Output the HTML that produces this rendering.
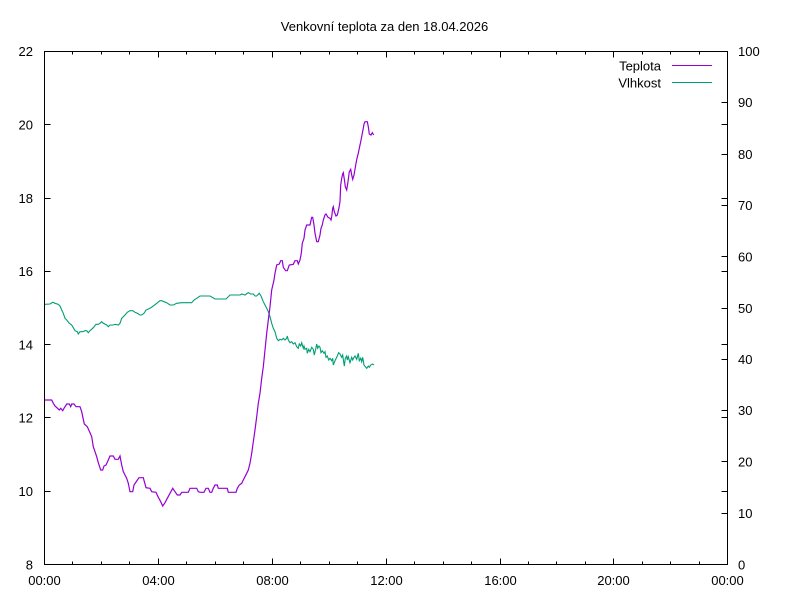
<!DOCTYPE html>
<html>
<head>
<meta charset="utf-8">
<style>
  html, body { margin: 0; padding: 0; background: #fff; }
  svg { display: block; }
  text { font-family: "Liberation Sans", "DejaVu Sans", sans-serif; font-size: 13px; fill: #000; }
</style>
</head>
<body>
<svg width="800" height="600" viewBox="0 0 800 600" xmlns="http://www.w3.org/2000/svg">
  <rect x="0" y="0" width="800" height="600" fill="#fff"/>

  <!-- Title -->
  <text x="384.5" y="31" text-anchor="middle">Venkovní teplota za den 18.04.2026</text>

  <!-- Ticks -->
  <g stroke="#000" stroke-width="1" shape-rendering="crispEdges" fill="none">
    <path d="M44.5 564.5h6 M44.5 491.5h6 M44.5 417.5h6 M44.5 344.5h6 M44.5 271.5h6 M44.5 198.5h6 M44.5 124.5h6 M44.5 51.5h6
             M727.5 491.5h-6 M727.5 417.5h-6 M727.5 344.5h-6 M727.5 271.5h-6 M727.5 198.5h-6 M727.5 124.5h-6"/>
    <path d="M727.5 513.5h-6 M727.5 461.5h-6 M727.5 410.5h-6 M727.5 359.5h-6 M727.5 308.5h-6 M727.5 256.5h-6 M727.5 205.5h-6 M727.5 154.5h-6 M727.5 102.5h-6"/>
    <path d="M158.5 564.5v-6 M272.5 564.5v-6 M386.5 564.5v-6 M500.5 564.5v-6 M613.5 564.5v-6
             M158.5 51.5v6 M272.5 51.5v6 M386.5 51.5v6 M500.5 51.5v6 M613.5 51.5v6"/>
    <path d="M72.5 564.5v-3 M101.5 564.5v-3 M129.5 564.5v-3 M186.5 564.5v-3 M215.5 564.5v-3 M243.5 564.5v-3
             M300.5 564.5v-3 M329.5 564.5v-3 M357.5 564.5v-3 M414.5 564.5v-3 M443.5 564.5v-3 M471.5 564.5v-3
             M528.5 564.5v-3 M556.5 564.5v-3 M585.5 564.5v-3 M642.5 564.5v-3 M670.5 564.5v-3 M699.5 564.5v-3
             M72.5 51.5v3 M101.5 51.5v3 M129.5 51.5v3 M186.5 51.5v3 M215.5 51.5v3 M243.5 51.5v3
             M300.5 51.5v3 M329.5 51.5v3 M357.5 51.5v3 M414.5 51.5v3 M443.5 51.5v3 M471.5 51.5v3
             M528.5 51.5v3 M556.5 51.5v3 M585.5 51.5v3 M642.5 51.5v3 M670.5 51.5v3 M699.5 51.5v3"/>
  </g>

  <!-- Left y labels -->
  <g text-anchor="end">
    <text x="33" y="569.5">8</text>
    <text x="33" y="496">10</text>
    <text x="33" y="422.5">12</text>
    <text x="33" y="349.5">14</text>
    <text x="33" y="276">16</text>
    <text x="33" y="203">18</text>
    <text x="33" y="129.5">20</text>
    <text x="33" y="56">22</text>
  </g>

  <!-- Right y2 labels -->
  <g text-anchor="start">
    <text x="738" y="569.5">0</text>
    <text x="738" y="518">10</text>
    <text x="738" y="466.5">20</text>
    <text x="738" y="415">30</text>
    <text x="738" y="364">40</text>
    <text x="738" y="313">50</text>
    <text x="738" y="261.5">60</text>
    <text x="738" y="210">70</text>
    <text x="738" y="159">80</text>
    <text x="738" y="107">90</text>
    <text x="738" y="56">100</text>
  </g>

  <!-- X labels -->
  <g text-anchor="middle">
    <text x="44.5" y="585">00:00</text>
    <text x="158.5" y="585">04:00</text>
    <text x="272.5" y="585">08:00</text>
    <text x="386.5" y="585">12:00</text>
    <text x="500.5" y="585">16:00</text>
    <text x="613.5" y="585">20:00</text>
    <text x="727.5" y="585">00:00</text>
  </g>

  <!-- Legend -->
  <text x="661" y="70.5" text-anchor="end">Teplota</text>
  <text x="661" y="87.5" text-anchor="end">Vlhkost</text>
  <rect x="672" y="65" width="40" height="1" fill="#9400d3"/>
  <rect x="672" y="82" width="40" height="1" fill="#009e73"/>

  <!-- Vlhkost series -->
  <polyline fill="none" stroke="#009e73" stroke-width="1.1" stroke-linejoin="miter" points="
45,304.3 50,304 52.7,302.3 55,303.3 58.3,304.3 60,306 61.7,310 63.3,313.3 65,318.3 66.7,320 69.3,323.3 71.7,325 73.3,327.7 75,330.7 77.3,331.7 78.3,334 80,331.7 82.7,331.7 85,330.7 86.7,330.7 88.3,332.7 90,330.7 93.3,327.7 96,324.3 98.3,324.3 100,323.3 101.7,321.7 103.3,323.3 106.7,325 108.3,326.7 110,325 113.3,325 115,324.3 118.3,325 120,323.3 121.7,318.3 125,315 127.3,312.3 130,310.7 132.7,310.7 135,312.3 137.3,313.3 140,315 141.7,315 144,313.3 146,310 150,308.3 153.3,306 156.7,303.3 160,300.7 161.7,300.7 164,301.7 166.7,302.7 170,305 173.3,305 176.7,303.3 181.7,302.7 191.7,302.7 194,300 196.7,298.3 200,296 210,296 215,299 226,299 230,295 240,295 241.7,294 245,295 248.3,292.7 250.7,294 253.3,294 255,296 256.7,296 259.3,293.3 261,296 263.3,301.7 265,305 266.7,308.3 268.3,311.7 270,316.7 271.7,323.3 273.3,328.3 275,331.7 276.7,338.3 278.3,340.7 280,339.3 281.7,340 283.3,338.3 285,340 286.7,338.3 287.3,336 288.3,340 290,342.7 291.7,341.7 293.3,344 295,342.7 296.7,346.7 298.3,348.3 299.3,344 300.7,346 301.7,342.7 303.3,348.3 304,346 305,349.3 306.7,348.3 307.3,353.3 308.7,349.3 310,351.7 311.7,347.3 313.3,349.3 314.3,355 315.7,349 316.7,344 317.7,348.3 319,346 320,347.3 321,352.7 322.3,350.7 324,353.3 325,351.7 326,357.3 327.3,356 328.7,360 330,358.3 331.7,360.7 332.7,358.3 333.3,365 335,360.7 336.7,357.3 337.7,355 338.7,352.7 340,354 341.7,357.3 342.7,355 343.3,359.3 344.3,366 345.3,358.3 346.7,356 347.3,360 348.3,356.7 350,362.7 351.7,357.3 352.7,360 354,357.3 355,356 356.7,359.3 358.3,353.3 359.3,360.7 360.7,358.3 361.7,361.7 362.7,357.3 364,365 365.3,366.7 366.7,368.3 368.3,366 369.3,367.3 370.7,365 372.7,364 374,365"/>

  <!-- Teplota series -->
  <polyline fill="none" stroke="#9400d3" stroke-width="1.2" stroke-linejoin="miter" points="
45,400 51.7,400 53.3,403.3 55,406 59.3,410 60.7,408.3 62.7,410.7 64,408.3 66.7,404 69.3,404 70.7,406.7 71.7,404 74,404 76,406.7 80,406.7 81.7,411.7 84.3,424 87.3,426.7 90,432.7 91.7,436.7 93.3,446.7 95,451.7 96.7,456.7 98.3,462.7 100.7,470 102.7,470 104,466 106,465 108.3,460 110,456 113.3,456 115,459.3 118.3,459.3 120,456 121.7,465 123.3,471.7 125,475 126.7,478.3 128.3,483.3 130,491.7 132.7,491.7 134,485 136.7,481 139,477.7 143.3,477.7 146,487.7 150,488.3 151.7,491.7 156,492.3 158.3,497.3 160.7,501.7 162.7,506 165,502.7 167.3,498.3 170,493.3 172.7,488.3 175,491.7 177.3,495 180,495 181.7,492.3 188.3,492.3 190,488.3 196.7,488.3 198.3,491.7 200,492.3 204,492.3 206,488.3 208.3,488.3 210,492.3 211.7,492.3 213.3,488.3 215,485 217.3,485 218.3,488.3 227.3,488.3 228.3,492.3 236,492.3 237.3,488.3 239.3,485 241.7,483.3 243.3,480 246.7,473.3 248.3,470 250,463.3 251.7,453.3 253.3,441.7 255,430 256.7,416.7 258.3,403.3 260,393.3 261.7,378.3 263.3,366.7 265,350 266.7,333.3 268.3,320 270,306.7 271.7,290 274,280 275,273.3 276.7,265 279.3,264 280.7,260.7 282.3,260.7 283.3,267.3 285.7,270.7 287.3,270.7 289.3,265 293.3,264.3 295,260.7 297.3,260.7 298.3,264 300,260 301.3,253.3 302.3,243.3 304,238.3 305,230 306.7,225 310,225 311.7,217.3 312.7,217.3 314,225 315,233.3 316.7,241.7 318.3,241.7 320,235 321,228.3 322.3,225 323.3,220 325,215 326,214 328,217.3 330,218.3 331,220 331.7,216.7 332.7,208.3 333.3,206.7 334.3,211.7 336,216 337.3,215 338.7,209.3 340,201.7 340.7,185 341.7,178.3 342.7,174 343.3,172.7 344.7,181.7 345.3,186.7 346.7,190 348,181.7 349.3,171.7 350.7,169.3 351.7,175 352.7,179.3 354,175 355,169.3 356,163.3 357,158.3 358.3,153.3 359.3,148.3 360.7,141.7 362,135 363.3,128.3 364,124 365,121.7 367.3,121.7 368.3,126.7 369.3,134 371,135 372.3,132.7 373.7,135"/>

  <!-- Plot border -->
  <rect x="44.5" y="51.5" width="683" height="513" fill="none" stroke="#000" stroke-width="1" shape-rendering="crispEdges"/>
</svg>
</body>
</html>
